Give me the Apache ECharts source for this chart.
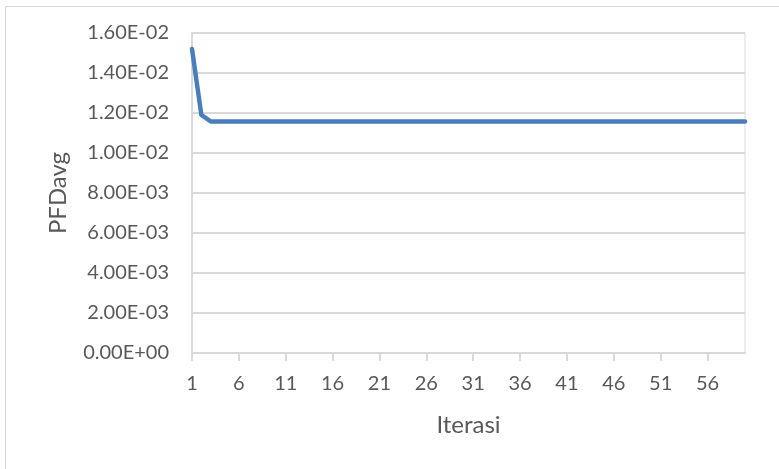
<!DOCTYPE html>
<html lang="id" style="height: 100%">
<head>
  <meta charset="utf-8">
</head>
<body style="height: 100%; margin: 0; background: #fff">
  <div id="container" style="width: 779px; height: 469px"></div>
  <script type="text/javascript" src="https://fastly.jsdelivr.net/npm/echarts@6/dist/echarts.min.js"></script>
  <script type="text/javascript">
    // iterations 1..60
    var iterasi = [];
    for (var i = 1; i <= 60; i++) iterasi.push(String(i));

    var pfdAvg = [
      0.0152, 0.0119, 0.01158, 0.01158, 0.01158, 0.01158, 0.01158, 0.01158, 0.01158, 0.01158,
      0.01158, 0.01158, 0.01158, 0.01158, 0.01158, 0.01158, 0.01158, 0.01158, 0.01158, 0.01158,
      0.01158, 0.01158, 0.01158, 0.01158, 0.01158, 0.01158, 0.01158, 0.01158, 0.01158, 0.01158,
      0.01158, 0.01158, 0.01158, 0.01158, 0.01158, 0.01158, 0.01158, 0.01158, 0.01158, 0.01158,
      0.01158, 0.01158, 0.01158, 0.01158, 0.01158, 0.01158, 0.01158, 0.01158, 0.01158, 0.01158,
      0.01158, 0.01158, 0.01158, 0.01158, 0.01158, 0.01158, 0.01158, 0.01158, 0.01158, 0.01158
    ];

    var yMin = 0, yMax = 0.016, yStep = 0.002;

    var gray = '#d9d9d9';
    var textColor = '#595959';
    var font = 'Lato, "Open Sans", sans-serif';

    var myChart = echarts.init(document.getElementById('container'), null, { renderer: 'canvas' });

    var option = {
      animation: false,
      backgroundColor: '#fff',
      textStyle: { fontFamily: font },
      graphic: [{
        type: 'rect',
        shape: { x: 5.5, y: 6.5, width: 800, height: 500 },
        style: { fill: 'none', stroke: gray, lineWidth: 1 },
        silent: true
      }],
      grid: {
        left: 192, right: 34, top: 33, bottom: 116,
        show: true, borderColor: gray, borderWidth: 1
      },
      xAxis: {
        type: 'category',
        data: iterasi,
        boundaryGap: false,
        name: 'Iterasi',
        nameLocation: 'middle',
        nameGap: 60,
        nameTextStyle: { fontSize: 24, color: textColor, fontFamily: font },
        axisLine: { lineStyle: { color: gray, width: 2 } },
        axisTick: { show: true, interval: 4, length: 8, inside: false, lineStyle: { color: gray, width: 2 } },
        axisLabel: { interval: 4, color: textColor, fontSize: 20, margin: 21, fontFamily: font }
      },
      yAxis: {
        type: 'value',
        min: yMin,
        max: yMax,
        interval: yStep,
        name: 'PFDavg',
        nameLocation: 'middle',
        nameGap: 122,
        nameRotate: 90,
        nameTextStyle: { fontSize: 24, color: textColor, fontFamily: font },
        axisLine: { show: true, lineStyle: { color: gray, width: 2 } },
        axisTick: { show: false },
        splitLine: { lineStyle: { color: gray, width: 2 } },
        axisLabel: {
          color: textColor, fontSize: 20, margin: 23, fontFamily: font,
          formatter: function (v) {
            var s = v.toExponential(2).toUpperCase();
            return s.replace(/E([+-])(\d)$/, 'E$10$2');
          }
        }
      },
      series: [{
        type: 'line',
        data: pfdAvg,
        showSymbol: false,
        symbol: 'none',
        lineStyle: { color: '#4a7ebb', width: 4.5, cap: 'round', join: 'round' }
      }]
    };

    myChart.setOption(option);
    window.addEventListener('resize', myChart.resize);
  </script>
</body>
</html>
